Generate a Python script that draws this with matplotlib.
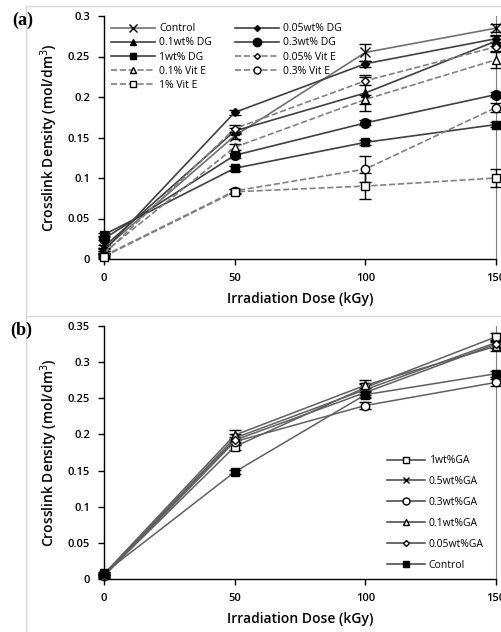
import numpy as np
import matplotlib.pyplot as plt
from matplotlib.lines import Line2D

plt.rcParams["font.family"] = "sans-serif"
plt.rcParams["font.sans-serif"] = ["Open Sans"]

dose = [0, 50, 100, 150]

# panel (a): DG and Vit E
a_labels = ["Control", "0.05wt% DG", "0.1wt% DG", "0.3wt% DG", "1wt% DG",
            "0.05% Vit E", "0.1% Vit E", "0.3% Vit E", "1% Vit E"]
a_control = [0.012, 0.152, 0.255, 0.285]
a_dg005 = [0.010, 0.181, 0.241, 0.272]
a_dg01 = [0.015, 0.158, 0.205, 0.269]
a_dg03 = [0.025, 0.128, 0.168, 0.203]
a_dg1 = [0.030, 0.112, 0.144, 0.166]
a_ve005 = [0.006, 0.161, 0.220, 0.262]
a_ve01 = [0.008, 0.138, 0.197, 0.246]
a_ve03 = [0.004, 0.084, 0.111, 0.187]
a_ve1 = [0.003, 0.083, 0.090, 0.100]
a_err = [
    [0.002, 0.004, 0.010, 0.005],
    [0.002, 0.003, 0.004, 0.004],
    [0.002, 0.004, 0.022, 0.006],
    [0.002, 0.003, 0.003, 0.003],
    [0.002, 0.003, 0.003, 0.003],
    [0.002, 0.004, 0.005, 0.005],
    [0.002, 0.004, 0.006, 0.010],
    [0.002, 0.003, 0.016, 0.006],
    [0.002, 0.003, 0.016, 0.011],
]

# panel (b): GA
b_labels = ["1wt%GA", "0.5wt%GA", "0.3wt%GA", "0.1wt%GA", "0.05wt%GA", "Control"]
b_ga1 = [0.005, 0.183, 0.265, 0.335]
b_ga05 = [0.006, 0.195, 0.262, 0.327]
b_ga03 = [0.004, 0.190, 0.240, 0.272]
b_ga01 = [0.007, 0.199, 0.268, 0.322]
b_ga005 = [0.005, 0.192, 0.258, 0.325]
b_control = [0.008, 0.148, 0.255, 0.284]
b_err = [
    [0.002, 0.005, 0.006, 0.006],
    [0.002, 0.005, 0.008, 0.006],
    [0.002, 0.004, 0.005, 0.005],
    [0.002, 0.007, 0.007, 0.006],
    [0.002, 0.005, 0.006, 0.005],
    [0.002, 0.003, 0.005, 0.004],
]

fig = plt.figure(figsize=(5.01, 6.32), dpi=100)

# light chart-area borders
fig.add_artist(Line2D([26 / 501, 26 / 501], [0, 626 / 632], color="#d9d9d9", lw=1))
fig.add_artist(Line2D([26 / 501, 1], [626 / 632, 626 / 632], color="#d9d9d9", lw=1))
fig.add_artist(Line2D([26 / 501, 1], [316 / 632, 316 / 632], color="#d9d9d9", lw=1))

tick_font = dict(fontsize=8, fontweight="semibold")
label_font = dict(fontsize=10, fontweight="semibold")


def style_axes(ax, ymax, ystep):
    ax.set_xlim(0, 150)
    ax.set_ylim(0, ymax)
    ax.set_xticks([0, 50, 100, 150])
    ax.set_yticks(np.arange(0, ymax + 1e-9, ystep))
    ax.set_yticklabels([("%g" % v) for v in np.arange(0, ymax + 1e-9, ystep)], **tick_font)
    ax.set_xticklabels(["0", "50", "100", "150"], **tick_font)
    ax.tick_params(direction="out", length=4, width=1, pad=6)
    ax.spines["top"].set_visible(False)
    ax.spines["right"].set_color("#808080")
    for s in ["left", "bottom"]:
        ax.spines[s].set_linewidth(1)
    ax.set_xlabel("Irradiation Dose (kGy)", labelpad=6, **label_font)
    ax.set_ylabel("Crosslink Density (mol/dm$^3$)", labelpad=6, **label_font)


# ---- panel (a)
ax1 = fig.add_axes([104 / 501, 373 / 632, 392 / 501, 243 / 632])
a_series = [a_control, a_dg005, a_dg01, a_dg03, a_dg1, a_ve005, a_ve01, a_ve03, a_ve1]
a_marker = ["x", "D", "^", "o", "s", "D", "^", "o", "s"]
a_msize = [7, 4, 6, 7, 6, 4, 6, 6, 6]
a_fill = ["black", "black", "black", "black", "black", "white", "white", "white", "white"]
a_ls = ["-", "-", "-", "-", "-", "--", "--", "--", "--"]
a_color = ["#707070", "#404040", "#404040", "#404040", "#404040",
           "#808080", "#808080", "#808080", "#808080"]
handles = []
for vals, err, lab, m, ms, fc, ls, c in zip(a_series, a_err, a_labels, a_marker,
                                            a_msize, a_fill, a_ls, a_color):
    ax1.errorbar(dose, vals, yerr=err, color=c, ls=ls, lw=1.2, marker=m, ms=ms,
                 mfc=fc, mec="black", mew=1, ecolor="black", elinewidth=1,
                 capsize=4, clip_on=False, zorder=3)
    handles.append(Line2D([], [], color=c, ls=ls, lw=1.2, marker=m, ms=ms - 1,
                          mfc=fc, mec="black", mew=1, label=lab))
order = [0, 2, 4, 6, 8, 1, 3, 5, 7]
ax1.legend([handles[i] for i in order], [a_labels[i] for i in order],
           ncol=2, loc="upper left", frameon=False, fontsize=7.5,
           handlelength=4.2, labelspacing=0.3, columnspacing=2.2,
           borderaxespad=0.3, handletextpad=0.4)
style_axes(ax1, 0.3, 0.05)
fig.text(12 / 501, 612 / 632, "(a)", family="Liberation Serif", fontsize=13,
         fontweight="bold", va="center", ha="left")

# ---- panel (b)
ax2 = fig.add_axes([104 / 501, 53 / 632, 392 / 501, 253 / 632])
b_series = [b_ga1, b_ga05, b_ga03, b_ga01, b_ga005, b_control]
b_marker = ["s", "x", "o", "^", "D", "s"]
b_msize = [6, 6, 6, 6, 4, 6]
b_fill = ["white", "white", "white", "white", "white", "black"]
b_handles = []
for vals, err, lab, m, ms, fc in zip(b_series, b_err, b_labels, b_marker, b_msize, b_fill):
    ax2.errorbar(dose, vals, yerr=err, color="#606060", lw=1.1, marker=m, ms=ms,
                 mfc=fc, mec="black", mew=1, ecolor="black", elinewidth=1,
                 capsize=4, clip_on=False, zorder=3)
    b_handles.append(Line2D([], [], color="#404040", lw=1.1, marker=m, ms=ms - 1,
                            mfc=fc, mec="black", mew=1, label=lab))
ax2.legend(handles=b_handles, loc="lower right", frameon=False, fontsize=7.5,
           handlelength=3.6, labelspacing=0.95, borderaxespad=0.4,
           handletextpad=0.4, bbox_to_anchor=(0.99, 0.0))
style_axes(ax2, 0.35, 0.05)
fig.text(10 / 501, 302 / 632, "(b)", family="Liberation Serif", fontsize=13,
         fontweight="bold", va="center", ha="left")

fig.savefig("out.png", dpi=100)
